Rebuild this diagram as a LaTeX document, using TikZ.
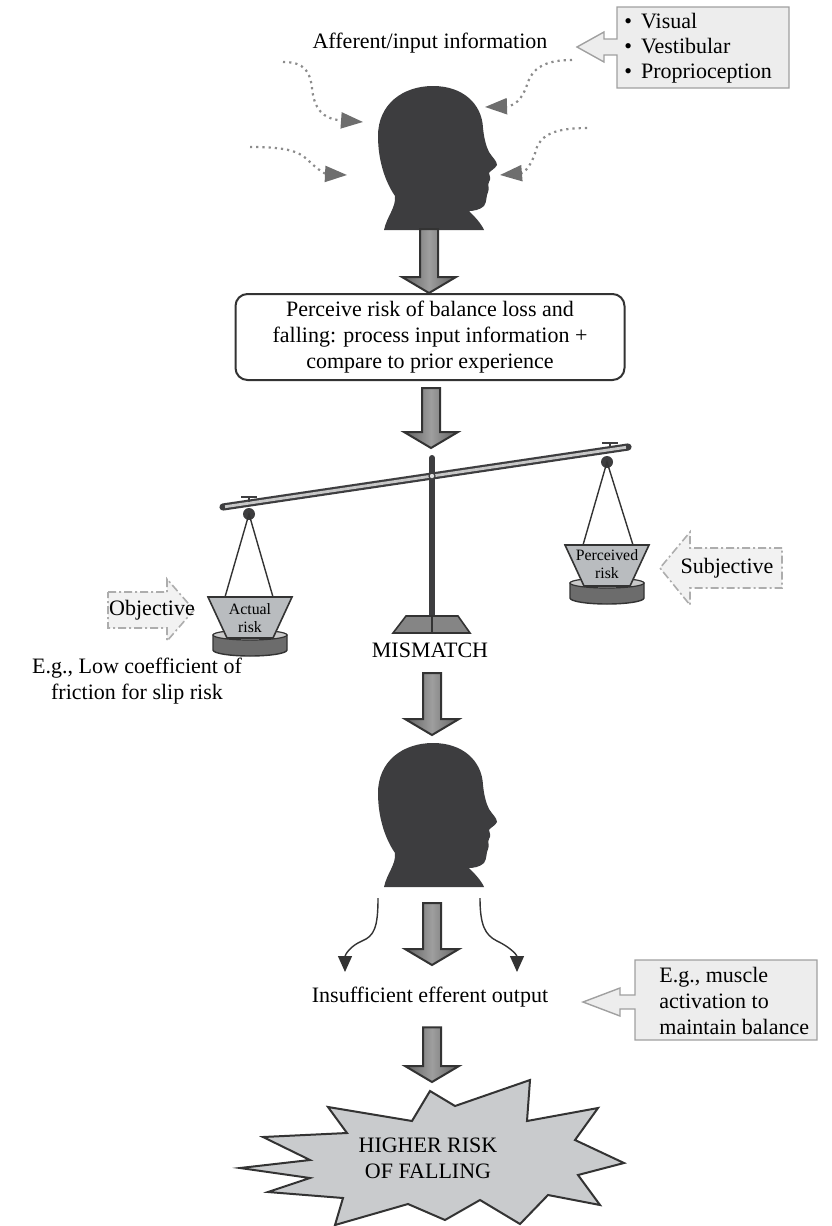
\documentclass[tikz,border=0pt]{standalone}
\usepackage{fontspec}
\setmainfont{Liberation Serif}
\usetikzlibrary{arrows.meta,calc}

\definecolor{headfill}{HTML}{3D3D3F}
\definecolor{tipgray}{HTML}{6E6E6E}
\definecolor{dotgray}{HTML}{8C8C8C}
\definecolor{boxgray}{HTML}{EDEDED}
\definecolor{boxedge}{HTML}{A0A0A0}
\definecolor{darkline}{HTML}{333333}
\definecolor{panfill}{HTML}{B9BCBF}
\definecolor{dishfill}{HTML}{6C6C6C}
\definecolor{rimfill}{HTML}{CACACA}
\definecolor{burstfill}{HTML}{C9CBCD}

% down-pointing block arrow from the first point to the tip at the second
\newcommand\blockdown[2]{%
  \path[bigarrow] let \p1=#1, \p2=#2 in
    (\x1-4.5pt,\y1) -- (\x1+4.5pt,\y1) -- (\x1+4.5pt,\y2+8pt) -- (\x1+13.5pt,\y2+8pt)
    -- (\x1,\y2) -- (\x1-13.5pt,\y2+8pt) -- (\x1-4.5pt,\y2+8pt) -- cycle;}

\begin{document}
\begin{tikzpicture}[x=0.5pt,y=-0.5pt,
  txt/.style={font=\fontsize{11}{13}\selectfont, inner sep=0pt, align=center},
  smalltxt/.style={font=\fontsize{7.9}{9.2}\selectfont, inner sep=0pt, align=center},
  bigarrow/.style={draw=darkline, line width=1pt, line join=miter,
    left color=black!62, right color=black!62, middle color=black!38},
  callout/.style={fill=boxgray, draw=boxedge, line width=0.7pt},
  dasharrow/.style={fill=black!5, draw=black!32, line width=0.8pt,
    dash pattern=on 4pt off 1.5pt on 1pt off 1.5pt},
  inflow/.style={draw=dotgray, line width=1.1pt, dotted,
    -{Triangle[length=11pt,width=8pt,color=tipgray]}},
  outflow/.style={draw=darkline, line width=0.7pt,
    -{Triangle[length=8pt,width=7pt,color=darkline]}},
  head/.pic={
    \fill[headfill] (6,144) .. controls (9,130) and (18,122) .. (17,110)
      .. controls (8,97) and (0,76) .. (0,50)
      .. controls (0,18) and (25,0) .. (55,0)
      .. controls (85,0) and (104,18) .. (105,42)
      .. controls (106,52) and (108,60) .. (111,66)
      .. controls (114,71) and (119,75) .. (119,79)
      .. controls (117,83) and (113,84) .. (111,87)
      .. controls (112,90) and (113,93) .. (111,96)
      .. controls (109,99) and (112,102) .. (110,106)
      .. controls (108,110) and (109,116) .. (106,120)
      .. controls (102,124) and (95,125) .. (91,125)
      .. controls (96,130) and (103,137) .. (106,144) -- cycle;},
  pan/.pic={
    \path[fill=dishfill, draw=darkline, line width=0.7pt]
      (-37,38) -- (-37,53) arc[start angle=180, end angle=0, x radius=37, y radius=6]
      -- (37,38) -- cycle;
    \path[fill=rimfill, draw=darkline, line width=0.6pt] (0,38) ellipse[x radius=37, y radius=5];
    \path[fill=panfill, draw=darkline, line width=0.8pt] (-42,0) -- (42,0) -- (23,41) -- (-23,41) -- cycle;}
]
\useasboundingbox (0,0) rectangle (831,1226);

% ---------- input side ----------
\node[txt] (afferent) at (430,43) {Afferent/input information};

\path[callout] (617,7) -- (789,7) -- (789,88) -- (617,88) -- (617,55) -- (604,55)
  -- (604,62) -- (577,47) -- (604,32) -- (604,39) -- (617,39) -- cycle;
\node[txt, font=\fontsize{11}{12.5}\selectfont, align=left, anchor=west] (senses) at (624,48)
  {\textbullet\hspace{4.5pt}Visual\\ \textbullet\hspace{4.5pt}Vestibular\\ \textbullet\hspace{4.5pt}Proprioception};

\pic at (378,86) {head};
\coordinate (h1neck) at (429,229);

\coordinate (d1s) at (283,62);   \coordinate (d1e) at (363,122);
\coordinate (d2s) at (250,147);  \coordinate (d2e) at (347,175);
\coordinate (d3s) at (572,60);   \coordinate (d3e) at (485,107);
\coordinate (d4s) at (587,128);  \coordinate (d4e) at (500,175);
\draw[inflow] (d1s) .. controls (305,62) and (310,72) .. (312,88)
  .. controls (314,108) and (322,119) .. (d1e);
\draw[inflow] (d2s) .. controls (290,147) and (300,152) .. (310,162)
  .. controls (318,170) and (326,174) .. (d2e);
\draw[inflow] (d3s) .. controls (545,60) and (532,68) .. (527,85)
  .. controls (522,100) and (514,106) .. (d3e);
\draw[inflow] (d4s) .. controls (555,128) and (540,135) .. (536,150)
  .. controls (532,165) and (524,173) .. (d4e);

% ---------- perception ----------
\node[txt, draw=darkline, line width=1pt, rounded corners=6pt,
  minimum width=194.5pt, minimum height=43pt] (perceive) at (430,337)
  {Perceive risk of balance loss and\\falling: process input information +\\compare to prior experience};

\blockdown{(h1neck)}{(perceive.north)}

% ---------- balance scale ----------
\coordinate (scaletop) at (431,448);
\blockdown{($(perceive.south)+(1,7)$)}{(scaletop)}

\draw[line width=3pt, draw=headfill, line cap=round] (432,458) -- (432,628);
\draw[line width=3.6pt, draw=headfill, line cap=round] (223,507) -- (628,447);
\draw[line width=1.4pt, draw=black!22] (225,506.7) -- (626,447.3);
\path[fill=black!12, draw=headfill, line width=0.6pt] (432,476) circle[radius=3];
\path[fill=black!48, draw=darkline, line width=0.8pt] (393,633) -- (470,633) -- (458,616) -- (406,616) -- cycle;
\draw[line width=1pt, draw=darkline] (432,616) -- (432,633);

% hangers
\draw[line width=1.2pt, draw=headfill] (241,497) -- (257,497) (249,497) -- (249,502);
\draw[line width=1.2pt, draw=headfill] (602,443) -- (618,443) (610,443) -- (610,448);
\fill[headfill] (249,514) circle[radius=6];
\fill[headfill] (607,462) circle[radius=6];
\draw[line width=0.7pt, draw=darkline] (225,597) -- (249,514) -- (273,597);
\draw[line width=0.7pt, draw=darkline] (583,545) -- (607,462) -- (633,545);

% pans
\pic at (250,597) {pan};
\node[smalltxt] (actual) at (250,618) {Actual\\risk};
\pic at (607,545) {pan};
\node[smalltxt] (perceived) at (607,564) {Perceived\\risk};

% objective / subjective
\path[dasharrow] (108,592) -- (167,592) -- (167,579) -- (194,610) -- (167,641)
  -- (167,628) -- (108,628) -- cycle;
\node[txt] (objective) at (152,610) {Objective};
\path[dasharrow] (782,548) -- (690,548) -- (690,532) -- (660,568) -- (690,605)
  -- (690,588) -- (782,588) -- cycle;
\node[txt] (subjective) at (727,568) {Subjective};

\node[txt] (example) at (137,681) {E.g., Low coefficient of\\friction for slip risk};
\node[txt] (mismatch) at (430,650) {MISMATCH};

% ---------- output side ----------
\coordinate (h2top) at (432,735);
\blockdown{(432,673)}{(h2top)}
\pic at (378,743) {head};

\coordinate (o1s) at (378,898);  \coordinate (o1e) at (345,972);
\coordinate (o2s) at (480,898);  \coordinate (o2e) at (517,972);
\draw[outflow] (o1s) .. controls (378,928) and (374,936) .. (362,941)
  .. controls (350,946) and (345,955) .. (o1e);
\draw[outflow] (o2s) .. controls (480,925) and (485,935) .. (497,941)
  .. controls (510,947) and (517,955) .. (o2e);

\node[txt] (output) at (430,997) {Insufficient efferent output};
\blockdown{(432,903)}{(432,965)}

\path[callout] (635,960) -- (817,960) -- (817,1040) -- (635,1040) -- (635,1009)
  -- (620,1009) -- (620,1016) -- (583,1002) -- (620,988) -- (620,995) -- (635,995) -- cycle;
\node[txt, align=left, anchor=west] (muscle) at (659,1001)
  {E.g., muscle\\activation to\\maintain balance};

% ---------- outcome ----------
\coordinate (bursttop) at (432,1082);
\blockdown{($(output.south)+(2,20)$)}{(bursttop)}

\path[fill=burstfill, draw=darkline, line width=1pt, line join=miter]
  (328,1107) -- (412,1121) -- (430,1091) -- (455,1106) -- (530,1080) -- (527,1121)
  -- (598,1108) -- (575,1140) -- (624,1163) -- (578,1175) -- (600,1205) -- (548,1195)
  -- (520,1224) -- (480,1200) -- (445,1220) -- (408,1204) -- (335,1225) -- (343,1198)
  -- (268,1192) -- (310,1178) -- (240,1168) -- (310,1160) -- (263,1137) -- (347,1133)
  -- cycle;
\node[txt] (falling) at (428,1158) {HIGHER RISK\\OF FALLING};
\end{tikzpicture}
\end{document}
